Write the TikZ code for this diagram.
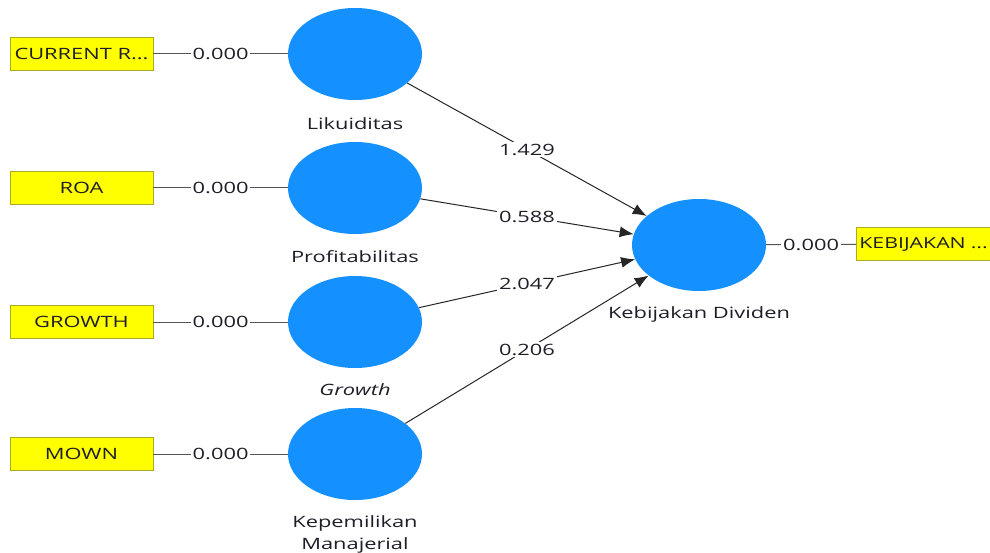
\documentclass[tikz,border=0pt]{standalone}
\usepackage{fontspec}
\setmainfont[FakeStretch=1.4]{Open Sans}
\usetikzlibrary{shapes.geometric,arrows.meta}
\definecolor{lvblue}{RGB}{20,145,255}
\definecolor{boxedge}{RGB}{170,170,40}
\definecolor{boxfill}{RGB}{255,255,0}
\definecolor{linegray}{RGB}{85,85,85}
\definecolor{txt}{RGB}{30,30,40}
\begin{document}
\begin{tikzpicture}[x=1pt,y=-1pt,
  font=\fontsize{15.6}{22}\selectfont,
  lv/.style={ellipse, fill=lvblue, minimum width=134pt, minimum height=92pt, inner sep=0pt},
  ind/.style={draw=boxedge, fill=boxfill, minimum width=143pt, minimum height=33pt, inner sep=0pt, line width=0.8pt, text=txt},
  wt/.style={fill=white, inner sep=2pt, text=txt},
  lnk/.style={draw=linegray, line width=1pt},
  arr/.style={draw=black!85, line width=1pt, -{Latex[length=14pt,width=11pt]}},
  lbl/.style={text=txt, inner sep=0pt}]
\useasboundingbox (0,0) rectangle (990,553);
\fill[white] (0,0) rectangle (990,553);
% latent variables
\node[lv] (lik) at (355,54) {};
\node[lv] (pro) at (355,188) {};
\node[lv] (gro) at (355,322) {};
\node[lv] (kep) at (355,454) {};
\node[lv] (keb) at (699,245) {};
% labels
\node[lbl] (liklbl) at (355,124) {Likuiditas};
\node[lbl] (prolbl) at (355,257) {Profitabilitas};
\node[lbl] (grolbl) at (355,390) {\itshape Growth};
\node[lbl, align=center] (keplbl) at (355,534) {Kepemilikan\\Manajerial};
\node[lbl] (keblbl) at (699,314) {Kebijakan Dividen};
% indicators
\node[ind] (cr) at (81.5,54) {CURRENT R...};
\node[ind] (roa) at (81.5,188) {ROA};
\node[ind] (grw) at (81.5,322) {GROWTH};
\node[ind] (mown) at (81.5,454) {MOWN};
\node[ind, anchor=west, minimum width=0pt, text width=134pt, inner xsep=3pt, align=left,
  font=\fontsize{15.2}{18}\selectfont] (kbj) at (856,244) {KEBIJAKAN ...};
% outer links
\draw[lnk] (cr) -- node[wt]{0.000} (lik);
\draw[lnk] (roa) -- node[wt]{0.000} (pro);
\draw[lnk] (grw) -- node[wt]{0.000} (gro);
\draw[lnk] (mown) -- node[wt]{0.000} (kep);
\draw[lnk] (keb) -- node[wt]{0.000} (kbj);
% inner paths
\draw[arr] (lik) -- node[wt]{1.429} (keb);
\draw[arr] (pro) -- node[wt]{0.588} (keb);
\draw[arr] (gro) -- node[wt]{2.047} (keb);
\draw[arr] (kep) -- node[wt]{0.206} (keb);
\end{tikzpicture}
\end{document}
